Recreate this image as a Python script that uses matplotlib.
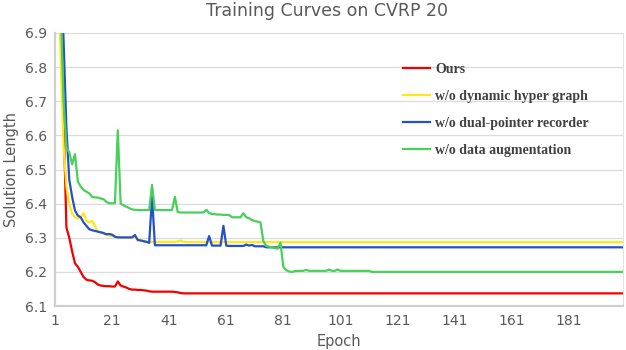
import numpy as np
import matplotlib
matplotlib.use("Agg")
import matplotlib.pyplot as plt

# ---------------- dados ---------------- #
epochs = np.arange(1, 201)

ours_head = [8.0, 7.4, 6.95, 6.65, 6.33, 6.30, 6.26, 6.225, 6.215, 6.20,
             6.185, 6.177, 6.175, 6.174, 6.17, 6.163, 6.16, 6.159, 6.158, 6.158,
             6.157, 6.157, 6.172, 6.16, 6.157, 6.154, 6.15, 6.148, 6.148, 6.147,
             6.147, 6.146, 6.145, 6.143, 6.142, 6.142, 6.142, 6.142, 6.142, 6.142,
             6.142, 6.142, 6.141, 6.14, 6.138]
ours = ours_head + [6.137] * (200 - len(ours_head))

hyper_head = [8.0, 7.15, 6.82, 6.57, 6.45, 6.40, 6.37, 6.36, 6.356, 6.36,
              6.372, 6.35, 6.345, 6.35, 6.335, 6.318, 6.315, 6.312, 6.31, 6.307,
              6.305, 6.303, 6.301, 6.30, 6.30, 6.30, 6.30, 6.30, 6.30, 6.297,
              6.293, 6.29, 6.289, 6.288, 6.288, 6.288, 6.288, 6.288, 6.288, 6.288,
              6.288, 6.288, 6.288, 6.289, 6.292, 6.288]
no_hyper = hyper_head + [6.287] * (200 - len(hyper_head))

pointer_head = [8.2, 7.6, 7.1, 6.88, 6.62, 6.47, 6.42, 6.38, 6.365, 6.36,
                6.345, 6.335, 6.325, 6.322, 6.32, 6.318, 6.316, 6.314, 6.31, 6.311,
                6.309, 6.303, 6.301, 6.301, 6.301, 6.301, 6.301, 6.301, 6.308, 6.293,
                6.292, 6.29, 6.288, 6.285, 6.42] + [6.278] * 19 + \
               [6.305, 6.277, 6.277, 6.277, 6.277, 6.335, 6.277,
                6.276, 6.276, 6.276, 6.276, 6.276, 6.276, 6.28, 6.277, 6.279,
                6.275, 6.275, 6.275, 6.275]
no_pointer = pointer_head + [6.272] * (200 - len(pointer_head))

aug_head = [8.0, 7.3, 6.98, 6.70, 6.565, 6.55, 6.515, 6.545, 6.465, 6.45,
            6.44, 6.435, 6.43, 6.42, 6.418, 6.418, 6.415, 6.413, 6.405, 6.401,
            6.401, 6.401, 6.615, 6.40, 6.395, 6.391, 6.387, 6.383, 6.382, 6.381,
            6.381, 6.381, 6.381, 6.381, 6.455, 6.381, 6.381, 6.381, 6.381, 6.381,
            6.381, 6.381, 6.42, 6.375, 6.374, 6.374, 6.374, 6.374, 6.374, 6.374,
            6.374, 6.374, 6.374, 6.382, 6.372, 6.37, 6.369, 6.368, 6.368, 6.367,
            6.367, 6.367, 6.36, 6.36, 6.36, 6.36, 6.372, 6.36, 6.357, 6.352,
            6.349, 6.347, 6.345, 6.29, 6.276, 6.274, 6.272, 6.27, 6.268, 6.286,
            6.215, 6.205, 6.201, 6.2, 6.202, 6.203, 6.203, 6.203, 6.206, 6.203,
            6.203, 6.203, 6.203, 6.203, 6.203, 6.203, 6.207, 6.203, 6.203, 6.207,
            6.203, 6.203, 6.203, 6.203, 6.203, 6.203, 6.203, 6.203, 6.203, 6.203,
            6.203]
no_aug = aug_head + [6.2] * (200 - len(aug_head))

labels = ["Ours", "w/o dynamic hyper graph", "w/o dual-pointer recorder",
          "w/o data augmentation"]
series = [ours, no_hyper, no_pointer, no_aug]
colors = ["#f20000", "#ffe81a", "#2352c8", "#48d05a"]

xticks = list(range(1, 200, 20))
yticks = [6.1, 6.2, 6.3, 6.4, 6.5, 6.6, 6.7, 6.8, 6.9]

# ---------------- figura ---------------- #
txt = "#595959"
fig = plt.figure(figsize=(6.26, 3.5), dpi=100)
ax = fig.add_axes([55 / 626, 44 / 350, 568 / 626, 273 / 350])

for y, lab, c in zip(series, labels, colors):
    ax.plot(epochs, y, color=c, lw=1.6, label=lab)

ax.set_xlim(1, 200)
ax.set_ylim(6.1, 6.9)
ax.set_xticks(xticks)
ax.set_yticks(yticks)
ax.set_yticklabels([f"{v:.1f}" for v in yticks])
ax.tick_params(length=0, labelsize=10, colors=txt, pad=6)
ax.grid(axis="y", color="#dcdcdc", lw=0.9)
ax.set_axisbelow(True)

for s in ["left", "bottom"]:
    ax.spines[s].set_color("#cfcfcf")
    ax.spines[s].set_linewidth(1.6)
ax.spines["right"].set_color("#e3e3e3")
ax.spines["top"].set_visible(False)

ax.set_xlabel("Epoch", fontsize=10.5, color=txt, labelpad=4)
ax.set_ylabel("Solution Length", fontsize=10.5, color=txt, labelpad=4)
fig.suptitle("Training Curves on CVRP 20", fontsize=12.5, color=txt,
             x=0.522, y=0.995)

leg = ax.legend(loc="upper left", bbox_to_anchor=(0.59, 0.935), frameon=False,
                prop={"family": "Liberation Serif", "weight": "bold", "size": 10},
                handlelength=2.0, labelspacing=1.0, handletextpad=0.35)
for t in leg.get_texts():
    t.set_color("#404040")

fig.savefig("out.png", dpi=100)
